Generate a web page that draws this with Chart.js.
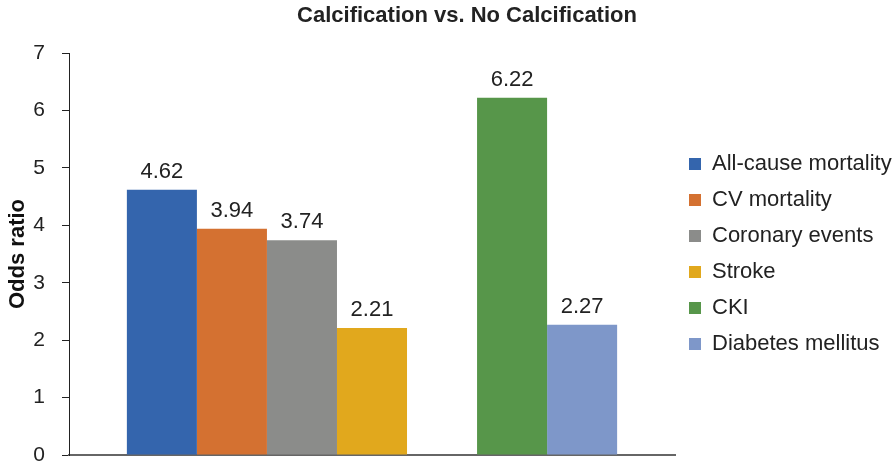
<!DOCTYPE html>
<html>
<head>
<meta charset="utf-8">
<script src="https://cdn.jsdelivr.net/npm/chart.js@4/dist/chart.umd.min.js"></script>
<style>
  html, body { margin: 0; padding: 0; background: #fff; }
  #wrap { width: 896px; height: 462px; position: relative; }
</style>
</head>
<body>
<div id="wrap"><canvas id="c"></canvas></div>
<script>
// Odds ratios, calcification vs. no calcification
const outcomes = ['All-cause mortality', 'CV mortality', 'Coronary events', 'Stroke', 'CKI', 'Diabetes mellitus'];
const oddsRatios = [4.62, 3.94, 3.74, 2.21, 6.22, 2.27];
const barColors = ['#3465ad', '#d47131', '#8b8c8a', '#e1a81d', '#57964a', '#7e97c9'];
const yTicks = [0, 1, 2, 3, 4, 5, 6, 7];

const FONT = '"Liberation Sans", Arial, Helvetica, sans-serif';
const FS = 21;
const FS_BIG = 22;

// mortality/event outcomes, then a blank slot, then the two comorbidities
const datasets = [];
outcomes.forEach((name, i) => {
  if (i === 4) {
    datasets.push({ label: '', data: [null], backgroundColor: 'rgba(0,0,0,0)', spacer: true });
  }
  datasets.push({ label: name, data: [oddsRatios[i]], backgroundColor: barColors[i], borderWidth: 0 });
});

const valueLabels = {
  id: 'valueLabels',
  afterDatasetsDraw(chart) {
    const ctx = chart.ctx;
    ctx.save();
    ctx.font = FS_BIG + 'px ' + FONT;
    ctx.fillStyle = '#222';
    ctx.textAlign = 'center';
    ctx.textBaseline = 'middle';
    chart.data.datasets.forEach((ds, di) => {
      if (ds.spacer) return;
      const meta = chart.getDatasetMeta(di);
      meta.data.forEach((bar, j) => {
        const v = ds.data[j];
        if (v == null) return;
        ctx.fillText(v.toFixed(2), bar.x, bar.y - 18);
      });
    });
    ctx.restore();
  }
};

const titleText = {
  id: 'titleText',
  afterDraw(chart) {
    const ctx = chart.ctx;
    ctx.save();
    ctx.font = 'bold ' + FS_BIG + 'px ' + FONT;
    ctx.fillStyle = '#222';
    ctx.textAlign = 'center';
    ctx.textBaseline = 'middle';
    ctx.fillText('Calcification vs. No Calcification', chart.width / 2 + 19, 16);
    ctx.restore();
  }
};

new Chart(document.getElementById('c'), {
  type: 'bar',
  data: { labels: [''], datasets },
  plugins: [valueLabels, titleText],
  options: {
    responsive: true,
    maintainAspectRatio: false,
    animation: false,
    layout: { padding: { top: 53, bottom: 7, left: 0, right: -4 } },
    datasets: { bar: { categoryPercentage: 0.809, barPercentage: 1.0 } },
    plugins: {
      title: { display: false },
      tooltip: { enabled: false },
      legend: {
        position: 'right',
        labels: {
          filter: (item, data) => !data.datasets[item.datasetIndex].spacer,
          boxWidth: 12,
          boxHeight: 12,
          padding: 14,
          color: '#222',
          font: { family: FONT, size: FS_BIG }
        }
      }
    },
    scales: {
      x: {
        grid: { display: false, drawTicks: false },
        ticks: { display: false, padding: 0 },
        border: { display: true, color: '#666', width: 2 },
        afterFit: (axis) => { axis.height = 0; axis.paddingLeft = 0; axis.paddingRight = 0; }
      },
      y: {
        min: 0,
        max: 7,
        afterBuildTicks: (axis) => { axis.ticks = yTicks.map(v => ({ value: v })); },
        afterFit: (axis) => { axis.width = 69; axis.paddingTop = 0; axis.paddingBottom = 0; },
        grid: { drawOnChartArea: false, drawTicks: true, tickLength: 7, color: '#222' },
        border: { display: true, color: '#222', width: 1 },
        ticks: { color: '#222', padding: 17, font: { family: FONT, size: FS } },
        title: { display: true, text: 'Odds ratio', color: '#111', font: { family: FONT, size: FS_BIG, weight: 'bold' }, padding: { top: 5, bottom: 4 } }
      }
    }
  }
});
</script>
</body>
</html>
